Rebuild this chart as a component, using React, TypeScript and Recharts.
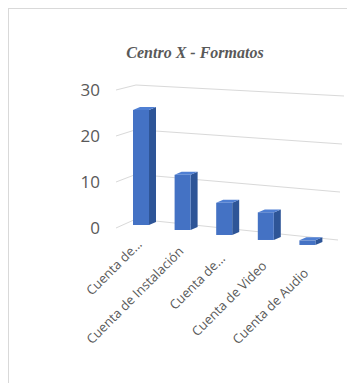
import React from 'react'
import { BarChart, Bar, XAxis, YAxis, CartesianGrid } from 'recharts'

const categories = [
  'Cuenta de...',
  'Cuenta de Instalación',
  'Cuenta de...',
  'Cuenta de Video',
  'Cuenta de Audio',
]
const counts = [25, 12, 7, 6, 1]
const yTicks = [0, 10, 20, 30]

const data = categories.map((name, i) => ({ name, value: counts[i] }))

const WIDTH = 346
const HEIGHT = 374
const PLOT_LEFT = 111
const PLOT_TOP = 81
const PLOT_BOTTOM = 219
const SLOPE = 0.12 // fake perspective: things further right sit lower

const drop = (cx: number) => (cx - PLOT_LEFT - 21) * SLOPE

const FRONT = '#4472c4'
const SIDE = '#2e5597'
const TOP = '#4f7fd3'
const DEPTH_X = 7
const DEPTH_Y = -3

function Bar3D(props: any) {
  const { x, y, width, height } = props
  if (height == null) return null
  const d = drop(x + width / 2) - 3
  const top = y + d
  const bottom = y + height + d
  const r = x + width
  return (
    <g>
      <polygon
        points={`${r},${top} ${r + DEPTH_X},${top + DEPTH_Y} ${r + DEPTH_X},${bottom + DEPTH_Y} ${r},${bottom}`}
        fill={SIDE}
      />
      <polygon
        points={`${x},${top} ${x + DEPTH_X},${top + DEPTH_Y} ${r + DEPTH_X},${top + DEPTH_Y} ${r},${top}`}
        fill={TOP}
      />
      <rect x={x} y={top} width={width} height={bottom - top} fill={FRONT} />
    </g>
  )
}

function GridLine(props: any) {
  const { x1, x2, y1 } = props
  const t = (y1 - PLOT_TOP) / (PLOT_BOTTOM - PLOT_TOP)
  const bendY = y1 - 5 - t * 4
  const endX = x2 + 16 - t * 6
  const endY = bendY + 11 + t * 10
  return (
    <polyline
      key={props.key ?? `g-${y1}`}
      points={`${x1 - 4},${y1} ${x1 + 16},${bendY} ${endX},${endY}`}
      fill="none"
      stroke="#d9d9d9"
      strokeWidth={1}
    />
  )
}

function XTick(props: any) {
  const { x, y, payload } = props
  const d = drop(x)
  const tx = x + 2
  const ty = y + 17 + d * 1.45
  return (
    <text
      x={tx}
      y={ty}
      transform={`rotate(-45 ${tx} ${ty})`}
      textAnchor="end"
      fontSize={13}
      fill="#595959"
      fontFamily="'Open Sans', sans-serif"
    >
      {payload.value}
    </text>
  )
}

export default function App() {
  return (
    <div
      style={{
        position: 'relative',
        boxSizing: 'content-box',
        width: WIDTH,
        height: HEIGHT,
        marginTop: -1,
        marginLeft: -1,
        borderTop: '2px solid #d9d9d9',
        borderLeft: '2px solid #d9d9d9',
      }}
    >
      <div
        style={{
          position: 'absolute',
          top: 35,
          left: 0,
          width: WIDTH + 26,
          textAlign: 'center',
          fontFamily: "'Liberation Serif', serif",
          fontStyle: 'italic',
          fontWeight: 'bold',
          fontSize: 16,
          color: '#595959',
        }}
      >
        Centro X - Formatos
      </div>
      <BarChart
        width={WIDTH}
        height={HEIGHT}
        data={data}
        margin={{ top: PLOT_TOP, right: WIDTH - 319, bottom: 0, left: 0 }}
        barSize={16}
      >
        <CartesianGrid vertical={false} horizontal={GridLine} />
        <XAxis
          dataKey="name"
          height={HEIGHT - PLOT_BOTTOM}
          axisLine={false}
          tickLine={false}
          tickSize={0}
          tickMargin={0}
          interval={0}
          tick={XTick}
        />
        <YAxis
          width={PLOT_LEFT}
          domain={[0, 30]}
          ticks={yTicks}
          axisLine={false}
          tickLine={false}
          tickSize={0}
          tickMargin={20}
          tick={{ fontSize: 17, fill: '#595959', fontFamily: "'Open Sans', sans-serif" }}
        />
        <Bar dataKey="value" shape={Bar3D} isAnimationActive={false} />
      </BarChart>
    </div>
  )
}
